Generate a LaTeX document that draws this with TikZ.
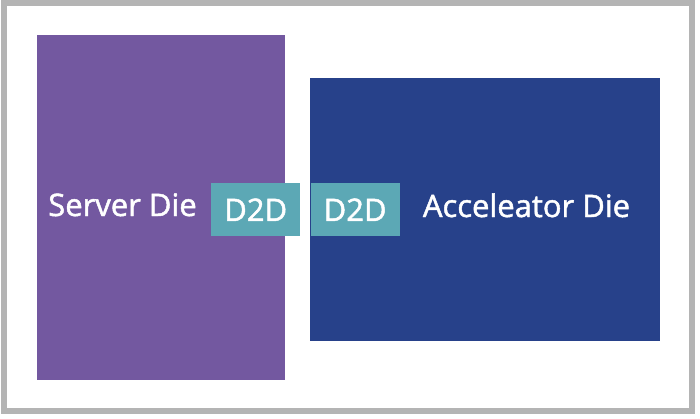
\documentclass[tikz,border=0pt]{standalone}
\usepackage{fontspec}
\setmainfont{Open Sans}
\newfontfamily\labelfont{Open Sans}[FakeBold=1.5]
\usetikzlibrary{positioning}

\definecolor{serverpurple}{HTML}{7358A0}
\definecolor{accelblue}{HTML}{27418A}
\definecolor{dtodteal}{HTML}{5CA8B5}
\definecolor{framegray}{HTML}{B4B4B4}

\begin{document}
\begin{tikzpicture}[x=1pt, y=-1pt,
    die/.style={draw=none, inner sep=0pt, anchor=north west},
    dtod/.style={fill=dtodteal, inner sep=0pt, minimum width=89pt, minimum height=53pt,
        text=white, font=\labelfont\fontsize{31}{31}\selectfont},
    dielabel/.style={text=white, anchor=base, font=\labelfont\fontsize{31}{31}\selectfont}]

    \useasboundingbox (0,0) rectangle (700,418);

    % Outer frame
    \draw[framegray, line width=6pt] (4,3) rectangle (692,411);

    % Dies
    \node[die, fill=serverpurple, minimum width=248pt, minimum height=345pt] (server) at (37,35) {};
    \node[die, fill=accelblue, minimum width=350pt, minimum height=263pt] (accel) at (310,78) {};

    % Die labels
    \node[dielabel] (serverlabel) at (122.5,216) {Server Die};
    \node[dielabel] (accellabel) at (526.5,217) {Acceleator Die};

    % D2D interfaces
    \node[dtod, anchor=north west] (dtodleft) at (211,183) {D2D};
    \node[dtod, right=10pt of dtodleft] (dtodright) {D2D};

\end{tikzpicture}
\end{document}
